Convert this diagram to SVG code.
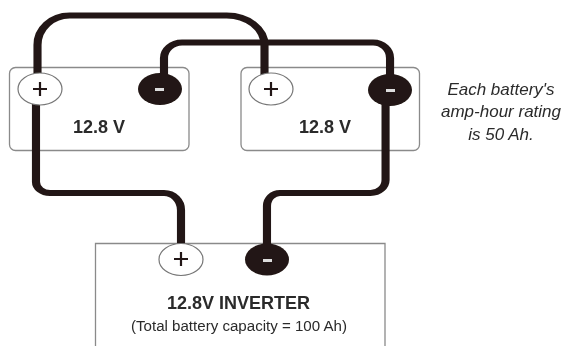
<svg xmlns="http://www.w3.org/2000/svg" width="564" height="346" viewBox="0 0 564 346">
<defs><filter id="soft" filterUnits="userSpaceOnUse" x="0" y="0" width="564" height="346"><feGaussianBlur stdDeviation="0.4"/></filter></defs>
<style>
.box{fill:#fff;stroke:#8a8a8a;stroke-width:1.3}
.wire{fill:none;stroke:#231815;stroke-width:5.800}
.pos{fill:#fff;stroke:#777;stroke-width:1.2}
.neg{fill:#231815}
text{font-family:"Liberation Sans",Arial,sans-serif;fill:#2b2b2b;text-anchor:middle}
.v{font-size:18px;font-weight:bold}
.note{font-size:17px;font-style:italic}
</style>
<rect width="564" height="346" fill="#fff"/>
<g filter="url(#soft)">
<g id="battery-1"><rect class="box" x="9.5" y="67.5" width="179.5" height="83" rx="6"/><text class="v" x="99" y="133">12.8 V</text></g>
<g id="battery-2"><rect class="box" x="241" y="67.5" width="178.5" height="83" rx="6"/><text class="v" x="325" y="133">12.8 V</text></g>
<g id="inverter"><path class="box" d="M95.5 346V243.500H385V346"/><text x="238.500" y="309" font-size="18" font-weight="bold">12.8V INVERTER</text><text x="239" y="331" font-size="15.100">(Total battery capacity = 100 Ah)</text></g>
<g id="connectors" transform="scale(1.4 1)">
<path class="wire" d="M26.790 76V45A22.860 29.500 0 0 1 49.650 15.500H162A26.930 29.500 0 0 1 188.930 45V76"/>
<path class="wire" d="M117.140 76V58A12.900 15.500 0 0 1 130 42.500H266.500A12.100 15.500 0 0 1 278.600 58V76"/>
<path class="wire" d="M25.710 103V182A10 11 0 0 0 35.710 193H117.200A12.100 17 0 0 1 129.290 210V245"/>
<path class="wire" d="M275.400 100V180A10.700 13 0 0 1 264.700 193H200A9.300 13 0 0 0 190.700 206V245"/>
</g>
<g id="battery-1-positive"><ellipse class="pos" cx="40" cy="89" rx="22" ry="16"/><path d="M33 89H47M40 82V96" stroke="#231815" stroke-width="2.200"/></g>
<g id="battery-1-negative"><ellipse class="neg" cx="160" cy="89" rx="22" ry="16"/><rect x="155" y="88" width="9" height="3" fill="#ddd"/></g>
<g id="battery-2-positive"><ellipse class="pos" cx="271" cy="89" rx="22" ry="16"/><path d="M264 89H278M271 82V96" stroke="#231815" stroke-width="2.200"/></g>
<g id="battery-2-negative"><ellipse class="neg" cx="390" cy="90" rx="22" ry="16"/><rect x="386" y="89" width="9" height="3" fill="#ddd"/></g>
<g id="inverter-positive"><ellipse class="pos" cx="181" cy="259.500" rx="22" ry="16"/><path d="M174 259H188M181 252V266" stroke="#231815" stroke-width="2.200"/></g>
<g id="inverter-negative"><ellipse class="neg" cx="267" cy="259.500" rx="22" ry="16"/><rect x="263" y="259" width="9" height="3" fill="#ddd"/></g>
<g id="note"><text class="note" x="501" y="95">Each battery's</text><text class="note" x="501" y="117">amp-hour rating</text><text class="note" x="501" y="140">is 50 Ah.</text></g>
</g>
</svg>
